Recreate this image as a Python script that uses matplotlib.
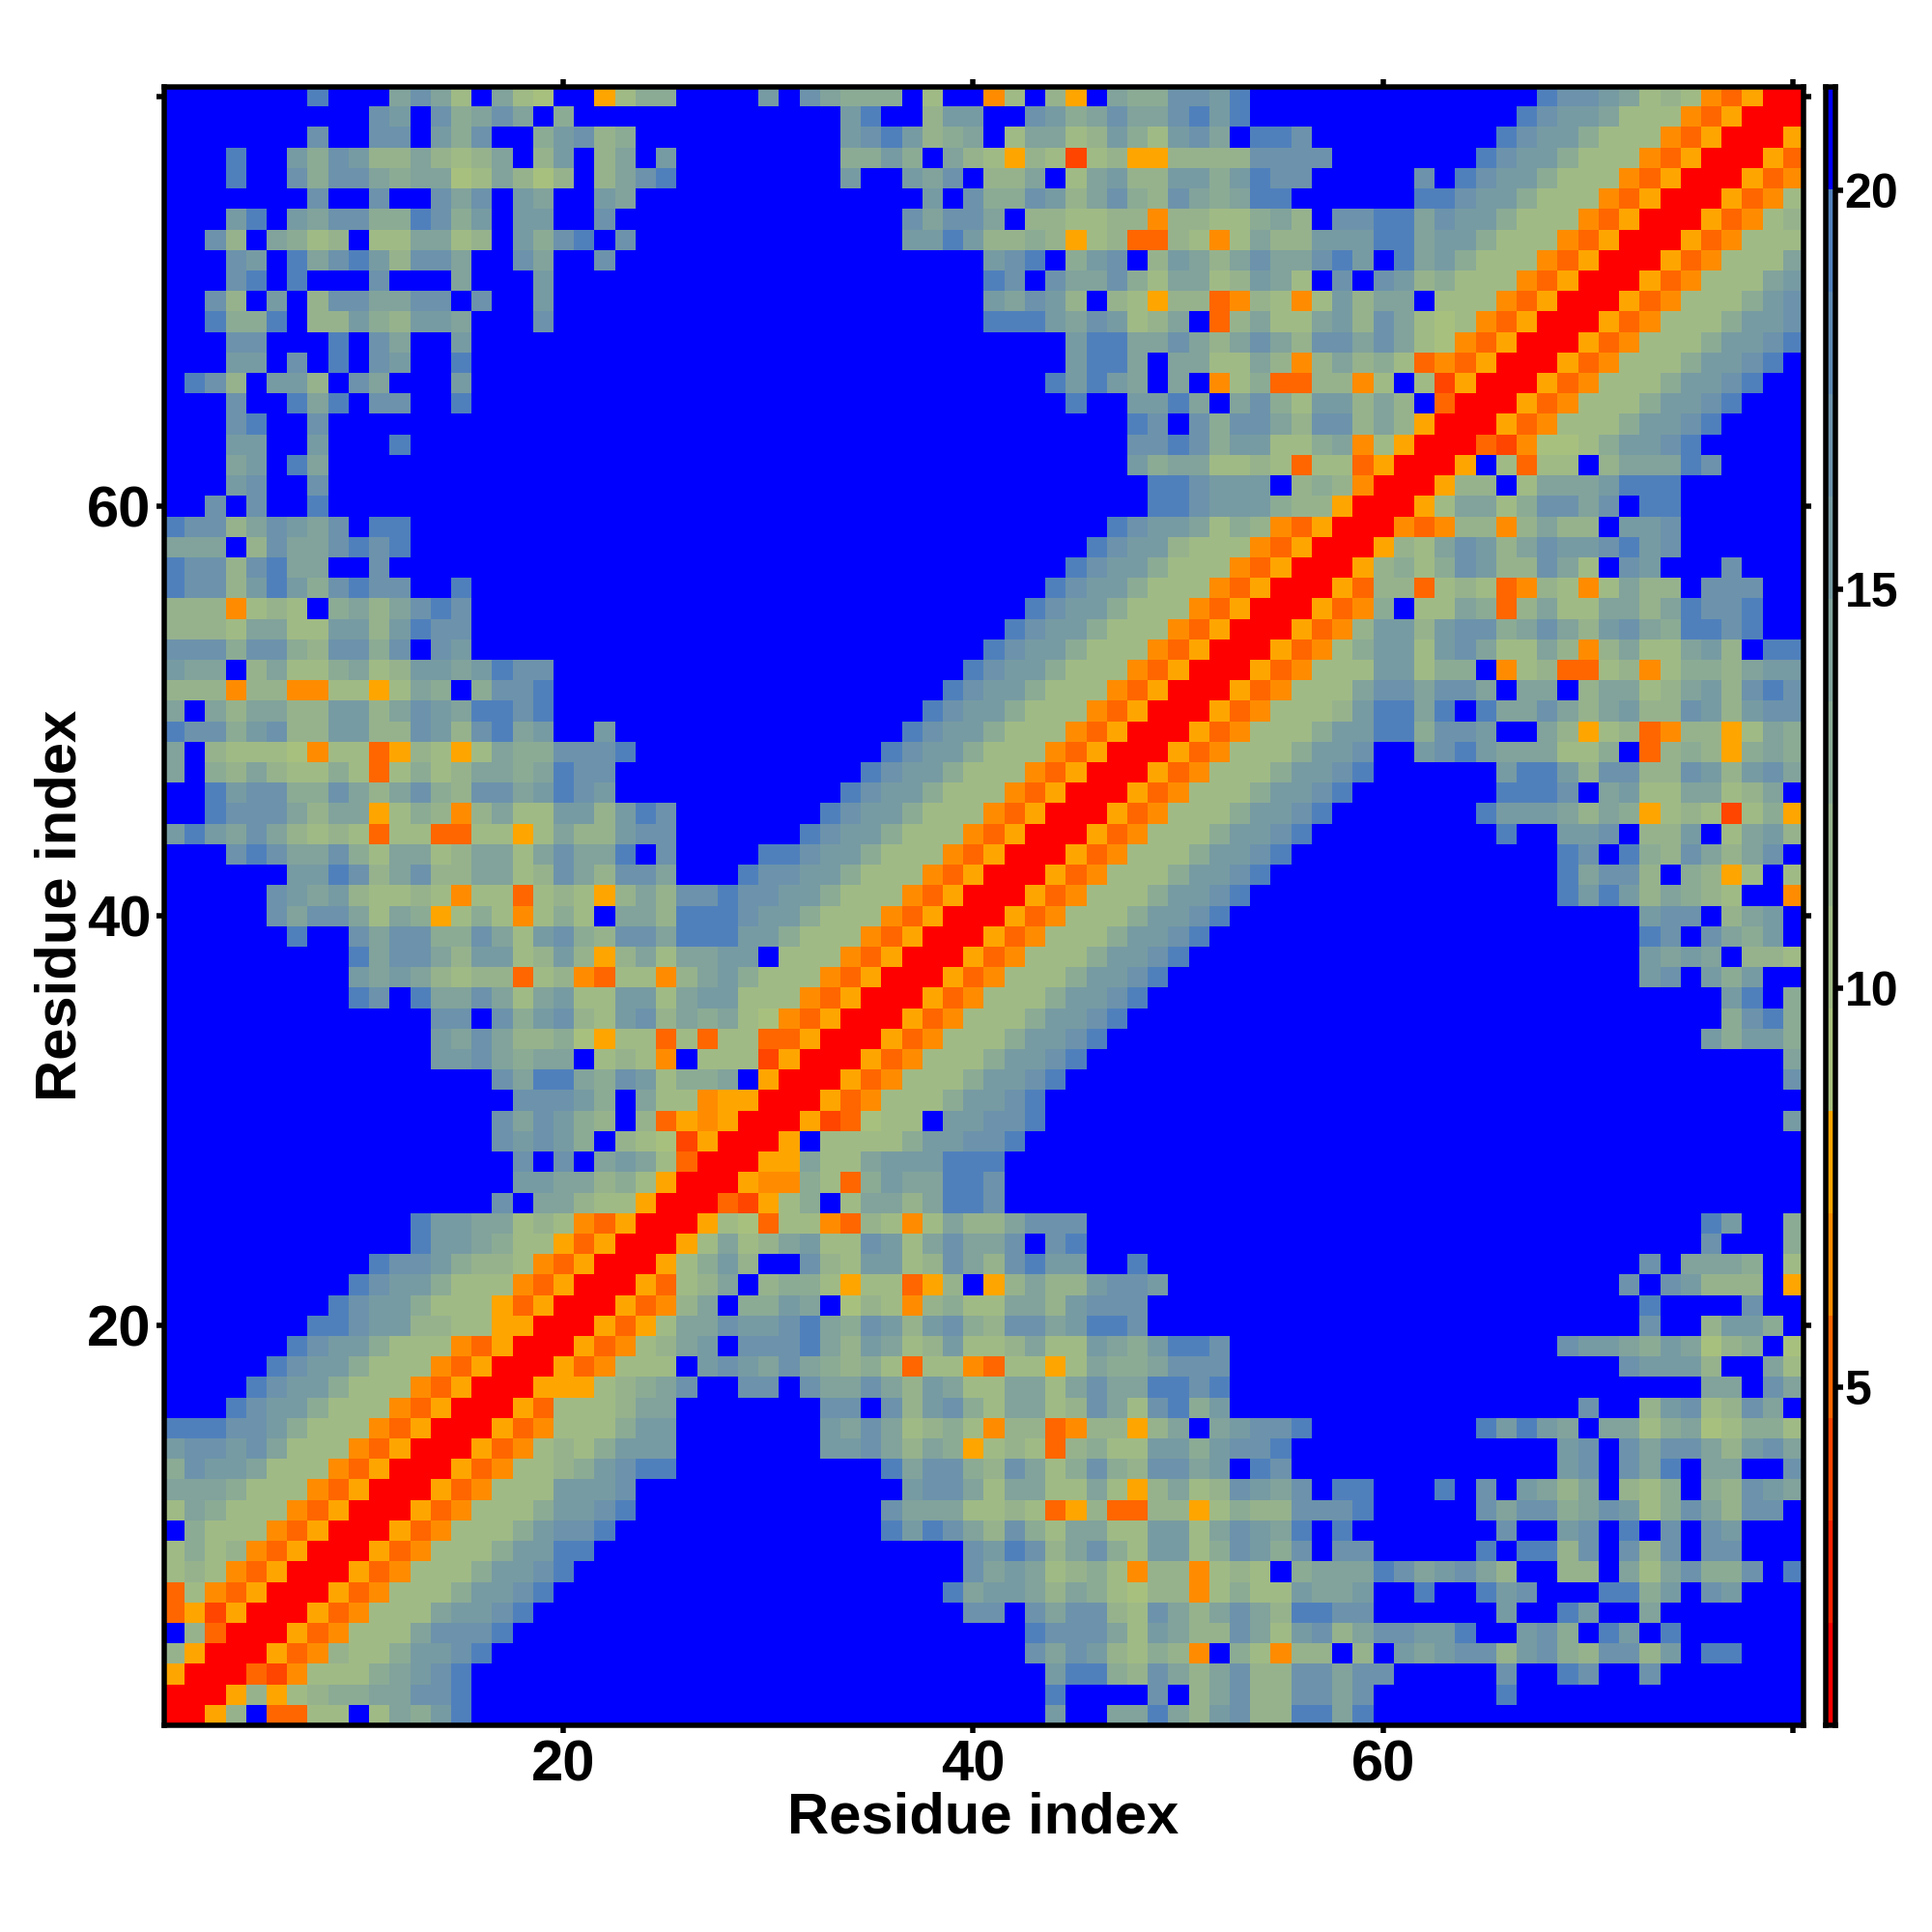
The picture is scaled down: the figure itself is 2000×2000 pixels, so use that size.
import numpy as np
import matplotlib
matplotlib.use("Agg")
import matplotlib.pyplot as plt
from matplotlib.colors import ListedColormap, BoundaryNorm

plt.rcParams['font.family'] = ['Liberation Sans', 'DejaVu Sans']

BAR_TICKS = [5, 10, 15, 20]
AXIS_TICKS = [20, 40, 60, 80]
AXIS_LABELS = ['20', '40', '60', '']
AXIS_TITLE = 'Residue index'
LEVEL_COLORS = ['#FF0000', '#FF2200', '#FF4500', '#FF6600', '#FF8C00', '#FFA500',
                '#A8C07E', '#A0BA85', '#96B28D', '#8BAB95', '#81A39C', '#779BA3',
                '#6C93AB', '#5F8AB4', '#5080BC', '#0000FF']
LEVEL_EDGES = [0.76 + 1.284 * k for k in range(17)]
LEVEL_CODES = '0123456789abcxd.'

# Distance level of each residue pair, one string per row from residue 80 to
# residue 2, covering columns 1 .. row-1 in groups of ten.
ROWS = [
 ".......d.. .aca7.a76. .5799....b .ca999.7.. 47.85.a99c cbd....... .......dcc ba7874350",
 ".......... cb.c9aca.9 .......... ...bd..8bb ..cb9acaac dbd....... ......dcbb a7774350",
 ".......c.. cc.b9c..9b c89....... ...bcdb89a .7aa78b97b ca.ddc.... .....dcbb9 7774350",
 "...d..b9cb 88a878a.8b .8a.b..... ...99b9.a8 7587278558 888cccc... ....dcbb97 774350",
 "...d..c9cc a9aa67a868 .8acd..... ...b..bac. 88a.7ab88b b9bdcc.... .c.dcbb977 74350",
 ".......c.. c..cac.ba. .ba....... .......b.c 99cb8ac98c a9add..... .ddcbb9777 4350",
 "...bd.bacc 99dc9b.bb. .c........ ......cacc a.88778848 8779a8.ccd dacbb97774 350",
 "..c8.a978. 77aa78.b9c d.c....... ......bbdb 8898578338 747a88bbbd dabb977743 50",
 "...cb.dacd b8cca..ca. .c........ .......... bcd.9bc.8b a8acaacdb. dab9777435 0",
 "...cd.d... c...a...b. .......... .......... dc.caac97a a78ba7.c.c b897774350",
 "..c8.b.8cc aacc.c..b. .......... .......... bacb8.8758 8348747b8a a.7774350",
 "..d99d.88b 98bba...c. .......... .......... dddbacb78a .38a77ab8c a7674350",
 "...cc...d. ca..b..... .......... .......... ....bddaac a8aca8ccac a764350",
 "...bb.c.d. cb..d..... .......... .......... ....bdda.a a77a848a89 734350",
 ".dc8.bb8.c a...b..... .......... .......... ...dbdba.a .479338847 .7250",
 "...c..dad. cc..d..... .......... .......... ....d..bbd a.ac97bb8a 8.30",
 "...cd..c.. .......... .......... .......... .......dc. c9cca8cc8a 850",
 "...bb..b.. .d........ .......... .......... .......ccd c9bb779a47 50",
 "...ab.da.. .......... .......... .......... .......b9a a778737735 0",
 "...bc..c.. .......... .......... .......... ........dd cbbb.89840",
 "..c.c..d.. .......... .......... .......... ........dd cbbb98850",
 "dcc8acbac. dd........ .......... .......... ......dcbb a7984350",
 "aaa.8caacd cd........ .......... .......... .....dcbb8 7774350",
 "dcc8cdaa.. c......... .......... .......... ....dcbb97 774350",
 "dcc8bdb9cd cc..d..... .......... .......... ...dcbb977 74350",
 "8884787.9a 8acdc..... .......... .......... ..dcbb9777 4350",
 "8887aa77bb 8bdcc..... .......... .......... .dcbb97774 350",
 "ccc9cc98cc 9c.cb..... .......... .......... dcbb977743 50",
 "baa.8a779a 78bbabdcc. .......... .........d cbb9777435 0",
 "8884884477 57a9.9ccd. .......... ........dc bb97774350",
 "a.a8aa88bb 8acbaddcd. .......... .......dcb b97774350",
 "dcc9bc88bb 88cb8cdab. .b........ ......dcbb 97774350",
 "a.87776477 358757a99c ccd....... .....dcbb9 7774350",
 "a.98a87797 37978aa9ad cc........ ....dcbb97 774350",
 "..dbcc99ca 8ac98ccabd cb........ ...dcbb977 74350",
 "..dccca8aa 579848a77b b8bdc..... ..dcbb9777 4350",
 "bdbaca8787 377337757a 88bcc..... .dcbb97774 350",
 "...cdcaac9 7aa78aa7ac aad.c....d dcbb977743 50",
 "......bbdc 8ac88aa78c a8cca...dc cbb9777435 0",
 ".....cbab8 7787477378 758a8ccdcc bb97774350",
 ".....cacca 7a95797479 7.aa8dddcb b97774350",
 "......d..c acc99ca7bc 98ccadddbb 97774350",
 ".........d acca8bb78b 858a7aabb. 7774350",
 ".........b aba8788378 437748ab97 774350",
 ".........d c.daaca7ab 77bb7abb77 74350",
 ".......... ...cc.c9bc 87bc8a9a76 4350",
 ".......... ...baca889 6577373773 350",
 ".......... ...bbca9aa .7874.7772 50",
 ".......... ......cadd a9cb799a.5 0",
 ".......... .......ccc b9.a774550",
 ".......... ......cacb 98.835450",
 ".......... ......cbcb 9.876250",
 ".......... .......c.c .aba730",
 ".......... .......bba a89750",
 ".......... ......c.aa 87750",
 ".......... ..dbbaa787 4350",
 ".......... ..dbba9775 350",
 ".......... dccb988743 50",
 ".........d cbb9777435 0",
 "........dc bb97775350",
 ".......ddc bb8877550",
 "......dcbb 97774350",
 ".....dcbb9 7774350",
 "....dcbb97 774350",
 "...dcbb977 74350",
 "dddccb9777 4350",
 "bccbca7774 350",
 "9cbba77743 50",
 "aaa9777435 0",
 "7a97774350",
 ".97774350",
 "79784350",
 "7874350",
 "374350",
 "35250",
 ".830",
 "850",
 "50",
 "0",
]

N = 80
centres = [(LEVEL_EDGES[k] + LEVEL_EDGES[k + 1]) / 2 for k in range(16)]
matrix = np.full((N, N), centres[0])
for offset, text in enumerate(ROWS):
    row = N - offset
    cells = text.replace(' ', '').rjust(row - 1, '.')[-(row - 1):]
    for col, code in enumerate(cells, start=1):
        matrix[row - 1, col - 1] = matrix[col - 1, row - 1] = centres[LEVEL_CODES.index(code)]

W = 2000.0
LW = 5.5 * 72 / 100


def box(x0, y0, x1, y1):
    return [x0 / W, 1 - y1 / W, (x1 - x0) / W, (y1 - y0) / W]


fig = plt.figure(figsize=(20, 20), dpi=100, facecolor='white')
cmap = ListedColormap(LEVEL_COLORS)
norm = BoundaryNorm(LEVEL_EDGES, cmap.N)

ax = fig.add_axes(box(169.5, 89.5, 1866.5, 1786))
ax.imshow(matrix, origin='lower', cmap=cmap, norm=norm, interpolation='nearest',
          extent=(0.5, N + 0.5, 0.5, N + 0.5), aspect='auto')
ax.set_xticks(AXIS_TICKS, AXIS_LABELS)
ax.set_yticks(AXIS_TICKS, AXIS_LABELS)
ax.tick_params(top=True, right=True, length=5.5, width=LW, labelsize=43)
ax.tick_params(axis='x', pad=5)
ax.tick_params(axis='y', pad=4)
for lab in ax.get_xticklabels() + ax.get_yticklabels():
    lab.set_fontweight('bold')
for t in ax.xaxis.get_ticklines() + ax.yaxis.get_ticklines():
    t.set_solid_capstyle('round')
for s in ax.spines.values():
    s.set_linewidth(LW)
ax.set_xlabel(AXIS_TITLE, fontsize=43, fontweight='bold', va='baseline')
ax.set_ylabel(AXIS_TITLE, fontsize=43, fontweight='bold', rotation=90, va='center', ha='center')
ax.xaxis.set_label_coords(0.5, (1786 - 1897) / 1696.5)
ax.yaxis.set_label_coords((63 - 169.5) / 1697, 0.5)

cax = fig.add_axes(box(1889.5, 89.5, 1900.5, 1786))
cax.pcolormesh([0, 1], LEVEL_EDGES, np.array(centres)[:, None], cmap=cmap, norm=norm)
cax.set_xlim(0, 1)
cax.set_ylim(LEVEL_EDGES[0], LEVEL_EDGES[-1])
cax.set_xticks([])
cax.yaxis.tick_right()
cax.set_yticks(BAR_TICKS, [str(v) for v in BAR_TICKS])
cax.tick_params(axis='y', length=5.5, width=LW, pad=1, labelsize=36)
for lab in cax.get_yticklabels():
    lab.set_fontweight('bold')
for s in cax.spines.values():
    s.set_linewidth(LW)

fig.savefig('out.png', dpi=100, facecolor='white')
